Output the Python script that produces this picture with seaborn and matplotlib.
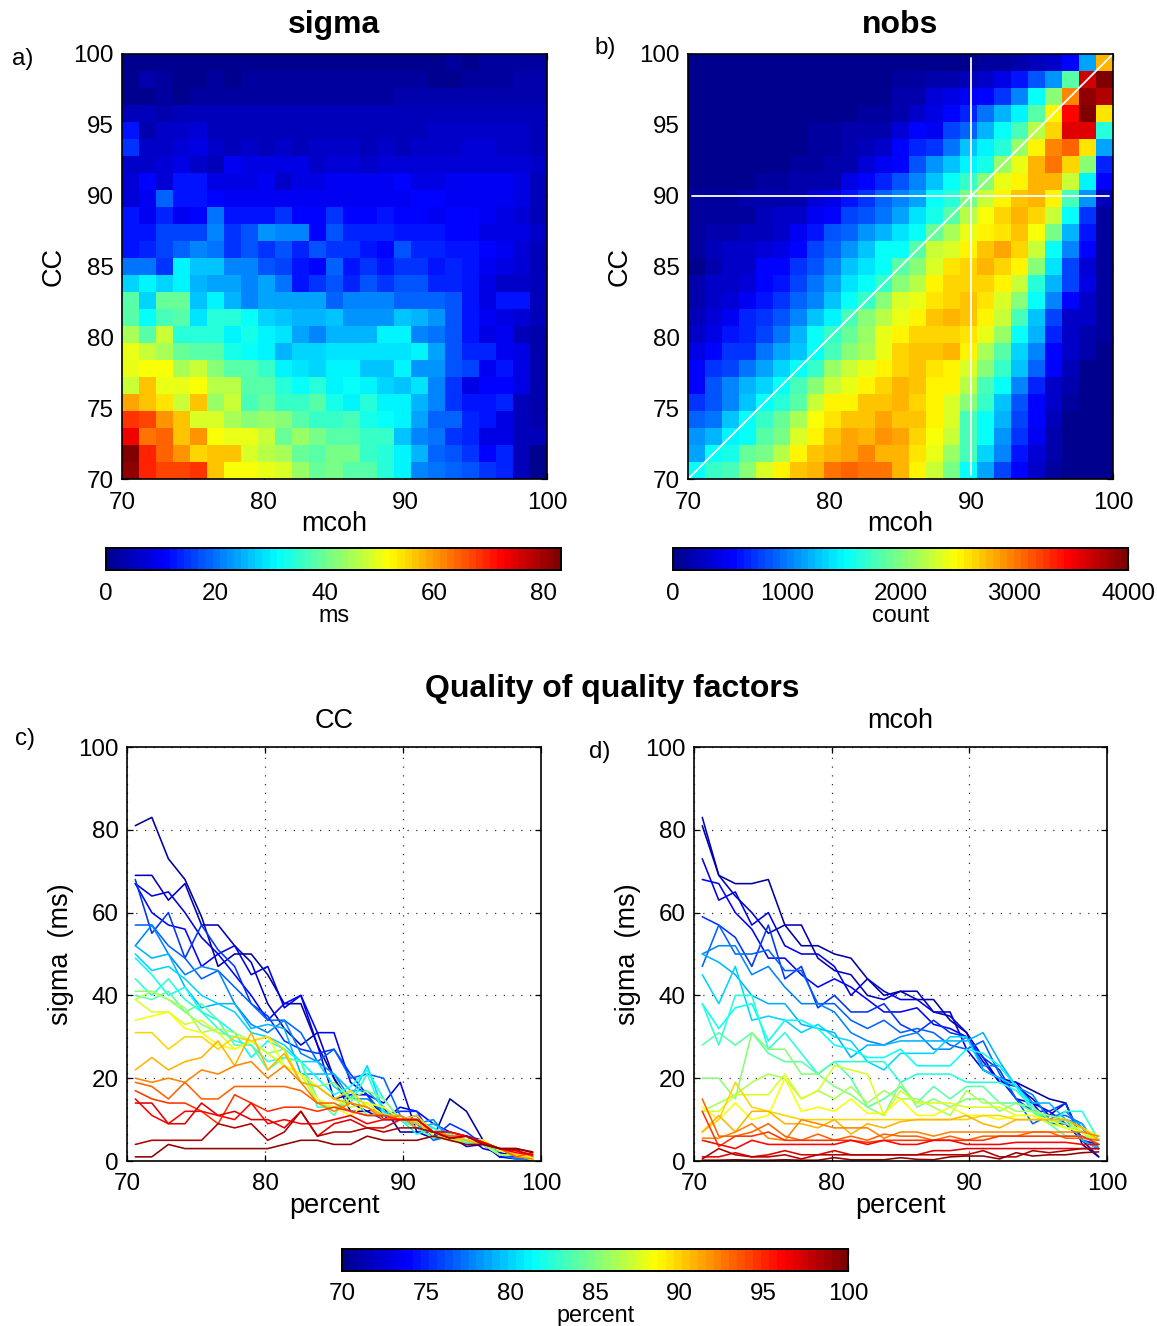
import numpy as np
import pandas as pd
import matplotlib
matplotlib.use("Agg")
import matplotlib.pyplot as plt
from matplotlib.cm import ScalarMappable
from matplotlib.colors import Normalize, LinearSegmentedColormap
import seaborn as sns

sns.set_theme(style="white")
plt.rcParams['font.family'] = ['Liberation Sans', 'DejaVu Sans']

percent = [70.6 + 1.2 * i for i in range(25)]
# rows: CC from 99.4 (top) to 70.6 (bottom); columns: mcoh 70.6 -> 99.4
sigma_rows = [
 [0.2,0.2,0.3,0.2,0.2,0.3,0.2,0.2,0.8,0.3,0.3,0.3,0.8,0.4,0.3,1,1.2,1.2,0.5,2,1.2,1.5,1.5,2,2.2],
 [0.5,3,1.5,1,1,1.5,0.5,1.5,1.5,1.5,1.5,1.5,1.5,1.5,1.5,1.5,1.5,2.5,1,1,2.5,2,2.5,3,3],
 [1,1,2,1,1.5,2.5,1.5,1.5,2.5,1.5,1.5,1.5,1.5,1.5,2.5,2.5,3,3,3,3,3,3,3,3,3],
 [5,4,3,5,4,4,4,4,4,5,4,5,4,4,5,5,4,4,4,4.5,4.5,4.5,4.5,4,4],
 [12,3.5,6,6,7,5,5,5,5,5,4.5,5,5,5,5,5,5,5,6,6,6,6,6,6,4],
 [15,6,6,7,9,6,5,6.5,5,6,5,6.5,6,6,5,6,5,6,6,6,7,7,5.5,5.5,5],
 [5.5,5.5,7,9,5.5,5,10,9,8,8,8,5.5,7,7,6,7,7,7,7,7,7,7,7,7,6],
 [7,11,7,12,12,9,9,8,10,6.5,9,8,9.5,10,10,10,11,9,8,10,10,10,10,8,5],
 [7,10,19,13,12,11,10,10,10,10,10,10,10,10,10,10,10,11,11,10,10,10,10,8,5],
 [13,10,14,10,11,20,12,13,12,15,11.5,11.5,15,11,11,13,11,11,10,11,11,10,8,7,5],
 [12,12,16,16,16,21,15,17,23,22,21,11,17,14,14,14,13,13,13,11,11,9,8,8,6],
 [12,14,16,19,21,20,15,17,15,18,14,17,15,15,13,11,17,14,14,12,12,11,10,7,4],
 [20,20,15,31,27,27,21,21,18,16,13,11,19,13,15,13,15,15,12,14,13,10,9,7,4],
 [28,31,28,31,26,24,24,21,24,20,13,15,18,14,18,15,18,18,14,14,12,9,6,6,5],
 [38,28,40,40,27,31,26,21,24,24,24,24,19,21,21,21,19,19,19,17,13,9,12,12,5],
 [38,32,37,38,29,34,34,32,28,27,25,25,27,23,23,23,27,26,23,18,13,10,8,7,4],
 [45,38,47,34,35,34,31,33,30,29,24,22,26,26,26,30,30,22,20,18,12,9,10,5,3],
 [50,48,45,40,38,38,33,32,31,25,28,28,29,29,29,29,29,31,24,18,14,14,10,9,3],
 [50,52,52,45,47,42,38,38,36,31,29,28,30,31,27,27,30,23,23,18,16,10,12,8,3],
 [47,57,50,50,51,46,46,38,38,34,32,34,31,32,31,28,27,29,21,15,9,11,11,9,3],
 [59,57,54,47,57,44,47,37,40,36,36,38,33,31,34,31,30,25,22,15,12,12,14,5,3],
 [68,67,60,56,49,49,45,42,44,42,39,36,36,37,33,32,30,24,19,19,14,12,9,5,3],
 [73,63,65,57,60,52,50,50,47,40,44,41,39,39,36,36,27,22,20,15,14,9,9,5,4],
 [83,69,64,60,55,57,57,49,46,45,40,39,41,41,36,35,31,25,19,18,15,11,14,5,1],
 [81,69,67,67,68,57,52,52,50,49,44,40,41,39,39,34,31,22,20,19,17,15,14,4,1],
]
nobs_rows = [
 [10,10,10,10,10,10,10,10,10,10,10,10,40,40,40,40,40,80,100,150,230,250,500,1150,2800],
 [10,10,10,10,10,10,10,10,10,10,60,60,80,90,130,130,200,300,430,600,850,1100,1850,3650,3950],
 [10,10,10,10,10,10,10,10,10,10,60,60,130,130,350,380,470,550,700,1000,1500,2000,2950,3900,3800],
 [10,10,10,10,10,10,10,10,40,40,70,70,150,300,380,550,650,950,1200,1450,1850,2500,3450,3950,2600],
 [10,10,10,10,10,30,30,80,80,130,130,140,350,500,480,750,880,1200,1500,1750,2200,2650,3600,3600,1650],
 [15,15,15,15,30,30,30,80,80,130,220,280,500,650,700,950,1300,1450,1650,2100,2500,2950,3100,2600,1150],
 [20,40,40,40,40,40,80,80,180,180,350,480,550,850,1100,1300,1450,1600,2100,2400,2750,3000,2680,2000,650],
 [60,60,60,60,100,100,140,140,180,420,560,640,850,1000,1300,1500,1700,2000,2400,2500,2800,2750,2300,1450,500],
 [70,70,70,130,130,130,180,350,400,600,700,900,1000,1150,1500,1650,1950,2300,2500,2700,2750,2500,1800,1100,200],
 [70,70,120,120,200,250,250,480,550,750,850,950,1150,1400,1600,1850,2200,2450,2650,2800,2650,2250,1500,700,100],
 [70,140,140,230,230,300,480,600,850,900,1100,1200,1400,1550,1900,2150,2400,2550,2600,2700,2450,1950,1200,600,100],
 [120,200,260,300,330,420,550,750,900,1100,1300,1500,1550,1850,2250,2350,2500,2700,2850,2650,2250,1550,1000,500,120],
 [60,180,250,280,500,520,700,850,1000,1250,1400,1550,1850,2000,2350,2600,2650,2750,2650,2500,2000,1400,800,350,100],
 [150,250,300,330,550,600,750,950,1150,1400,1500,1700,2050,2200,2500,2650,2650,2650,2500,2250,1650,1200,750,400,100],
 [180,280,330,450,600,700,900,1050,1250,1500,1700,2000,2350,2400,2600,2680,2700,2600,2350,2000,1500,1050,500,300,80],
 [200,320,470,650,700,850,1000,1250,1480,1800,2000,2200,2400,2500,2700,2800,2700,2500,2250,1800,1300,750,300,250,70],
 [280,430,580,680,780,950,1200,1500,1700,1900,2100,2400,2500,2650,2650,2650,2620,2400,2100,1550,1200,650,280,150,70],
 [400,500,700,730,950,1150,1300,1550,1800,2000,2150,2400,2650,2700,2700,2780,2550,2150,1850,1350,1000,550,250,130,60],
 [500,700,800,950,1150,1350,1550,1700,2100,2250,2400,2550,2650,2700,2600,2500,2350,2050,1700,1300,900,500,200,60,50],
 [550,830,1050,1200,1350,1500,1750,2050,2250,2400,2500,2650,2750,2700,2550,2500,2200,1750,1500,1050,650,280,180,40,30],
 [700,850,1050,1250,1500,1650,1850,2300,2520,2520,2700,2700,2750,2680,2530,2350,2050,1700,1300,850,550,260,100,30,30],
 [900,950,1250,1500,1700,1900,2150,2450,2580,2700,2700,2850,2700,2700,2500,2350,1800,1550,1200,800,500,220,60,30,30],
 [1100,1200,1450,1550,1850,1950,2350,2500,2700,2820,2780,2900,2830,2650,2450,2250,1750,1500,1100,700,450,180,50,20,20],
 [1150,1500,1600,1900,1950,2200,2520,2700,2800,2850,2950,2800,2780,2600,2430,2100,1750,1350,1000,600,350,150,40,15,15],
 [1500,1700,1750,2000,2350,2500,2700,2800,3000,3100,3050,3000,2800,2520,2250,1950,1500,1150,750,500,250,80,20,10,10],
]
ticks_heat_x = [70, 80, 90, 100]
ticks_heat_y = [70, 75, 80, 85, 90, 95, 100]
ticks_line_x = [70, 80, 90, 100]
ticks_line_y = [0, 20, 40, 60, 80, 100]
sigma_cb_ticks = [0, 20, 40, 60, 80]
nobs_cb_ticks = [0, 1000, 2000, 3000, 4000]
pct_cb_ticks = [70, 75, 80, 85, 90, 95, 100]
sigma_max = 83.3
nobs_max = 4000
guide_value = 90
guide_span = [70.3, 99.7]

W, H = 1157, 1326
FS = 17.4
FL = 19.5
fig = plt.figure(figsize=(W / 100, H / 100), dpi=100)
fig.patch.set_facecolor('white')
cmap = LinearSegmentedColormap.from_list(
    'matlab_jet',
    [(0, (0, 0, 0.5625)), (0.125, (0, 0, 1)), (0.375, (0, 1, 1)), (0.625, (1, 1, 0)),
     (0.875, (1, 0, 0)), (1, (0.5, 0, 0))], N=64)
sig = np.array(sigma_rows, dtype=float)
nob = np.array(nobs_rows, dtype=float)


def axpx(x0, y0, x1, y1):
    return fig.add_axes([x0 / W, 1 - y1 / H, (x1 - x0) / W, (y1 - y0) / H])


def to_cell_x(v):
    return (np.asarray(v, dtype=float) - 70) / 1.2


def to_cell_y(v):
    return (100 - np.asarray(v, dtype=float)) / 1.2


def style(ax):
    for s in ax.spines.values():
        s.set_visible(True)
        s.set_color('black')
        s.set_linewidth(1.2)
    ax.tick_params(direction='in', length=4, width=0.9, top=True, right=True,
                   bottom=True, left=True, labelsize=FS, color='black', pad=6,
                   labelcolor='black')


def heat(data, rect, crect, vmax, title, unit, cticks):
    ax = axpx(*rect)
    cax = axpx(*crect)
    sns.heatmap(data, ax=ax, cmap=cmap, vmin=0, vmax=vmax, cbar_ax=cax, square=False,
                cbar_kws={'orientation': 'horizontal'}, linewidths=0,
                xticklabels=False, yticklabels=False)
    ax.set_xticks(to_cell_x(ticks_heat_x), [str(v) for v in ticks_heat_x], rotation=0)
    ax.set_yticks(to_cell_y(ticks_heat_y), [str(v) for v in ticks_heat_y], rotation=0)
    style(ax)
    ax.tick_params(axis='x', pad=9.5)
    ax.set_title(title, fontsize=23, fontweight='bold', pad=15, color='black')
    ax.set_xlabel('mcoh', fontsize=FL, labelpad=-2, color='black')
    ax.set_ylabel('CC', fontsize=FL, labelpad=5, color='black')
    cax.set_xticks(cticks, [str(v) for v in cticks])
    style(cax)
    cax.tick_params(left=False, right=False, labelleft=False, labelright=False, pad=9.5)
    cax.set_xlabel(unit, fontsize=16.8, labelpad=-1, color='black')
    return ax


ax_a = heat(sig, (122, 54, 547, 479), (106, 548, 561, 570), sigma_max, 'sigma', 'ms', sigma_cb_ticks)
ax_b = heat(nob, (688, 54, 1113, 479), (673, 548, 1128, 570), nobs_max, 'nobs', 'count', nobs_cb_ticks)

ax_b.plot(to_cell_x(guide_span), to_cell_y([guide_value, guide_value]), color='white', lw=1.3)
ax_b.plot(to_cell_x([guide_value, guide_value]), to_cell_y(guide_span), color='white', lw=1.3)
ax_b.plot(to_cell_x([70, 100]), to_cell_y([70, 100]), color='white', lw=1.3)


def lines(rect, data, xlabel_title):
    # each series: one colour from the jet ramp
    ax = axpx(*rect)
    n = data.shape[0]
    long = pd.DataFrame({
        'x': np.tile(percent, n),
        'y': data.ravel(),
        'series': np.repeat(np.arange(n), data.shape[1]),
    })
    palette = [cmap((p - 70) / 30) for p in percent]
    sns.lineplot(data=long, x='x', y='y', hue='series', palette=palette, ax=ax,
                 estimator=None, units='series', legend=False, lw=1.15)
    ax.set_xlim(70, 100)
    ax.set_ylim(0, 100)
    ax.set_xticks(ticks_line_x, [str(v) for v in ticks_line_x])
    ax.set_yticks(ticks_line_y, [str(v) for v in ticks_line_y])
    style(ax)
    ax.tick_params(axis='x', pad=9)
    ax.grid(True, color='#333333', linestyle=(0, (1, 6)), linewidth=0.9)
    ax.set_axisbelow(True)
    ax.set_title(xlabel_title, fontsize=FL, pad=14, color='black')
    ax.set_xlabel('percent', fontsize=FL, labelpad=-2, color='black')
    ax.set_ylabel('sigma  (ms)', fontsize=FL, labelpad=3, color='black')
    return ax


# panel c: one line per mcoh bin, sigma against CC (bottom row = lowest CC)
lines((127, 747, 541, 1161), sig[::-1].T, 'CC')
# panel d: one line per CC bin, sigma against mcoh
lines((694, 747, 1107, 1161), sig[::-1], 'mcoh')

cax3 = axpx(342, 1249, 848, 1271)
sm = ScalarMappable(norm=Normalize(70, 100), cmap=cmap)
cb = fig.colorbar(sm, cax=cax3, orientation='horizontal')
cb.set_ticks(pct_cb_ticks, labels=[str(v) for v in pct_cb_ticks])
style(cax3)
cb.outline.set_linewidth(1.2)
cax3.tick_params(left=False, right=False, labelleft=False, labelright=False, pad=9)
cax3.set_xlabel('percent', fontsize=16.8, labelpad=-1, color='black')

fig.text(612 / W, 1 - 689 / H, 'Quality of quality factors', fontsize=23, fontweight='bold',
         ha='center', va='center', color='black')
for label, x, y in [('a)', 12, 59), ('b)', 594, 48), ('c)', 15, 739), ('d)', 589, 752)]:
    fig.text(x / W, 1 - y / H, label, fontsize=FS, ha='left', va='center', color='black')

fig.savefig('out.png', dpi=100)
